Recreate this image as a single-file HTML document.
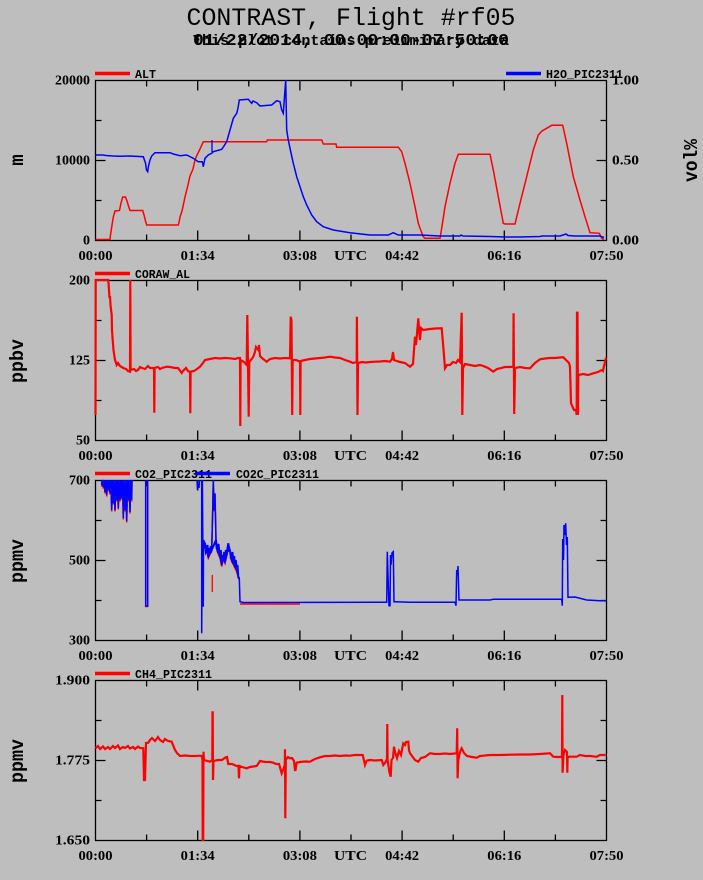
<!DOCTYPE html>
<html><head><meta charset="utf-8"><style>
html,body{margin:0;padding:0;background:#bebebe;}
svg{display:block;}
.t{font-family:"Liberation Serif",serif;font-weight:bold;font-size:14px;fill:#000;}
.lg{font-family:"Liberation Mono",monospace;font-weight:bold;font-size:11.5px;fill:#000;}
.yl{font-family:"Liberation Mono",monospace;font-weight:bold;font-size:19px;fill:#000;}
.ax{fill:none;stroke:#000;stroke-width:1.3;}
.r{fill:none;stroke:#ff0000;stroke-width:1.5;stroke-linejoin:miter;}
.rn{fill:none;stroke:#ff0000;stroke-width:2.2;stroke-linejoin:miter;}
.b{fill:none;stroke:#0000ff;stroke-width:1.5;stroke-linejoin:miter;}
.bn{fill:none;stroke:#0000ff;stroke-width:2;stroke-linejoin:miter;}
</style></head><body>
<svg width="703" height="880" viewBox="0 0 703 880" xmlns="http://www.w3.org/2000/svg">
<rect width="703" height="880" fill="#bebebe"/>
<text x="351" y="25" font-family="Liberation Mono,monospace" font-size="25" text-anchor="middle" textLength="329" lengthAdjust="spacingAndGlyphs">CONTRAST, Flight #rf05</text>
<text x="351" y="45" font-family="Liberation Mono,monospace" font-weight="bold" font-size="17" text-anchor="middle" textLength="316" lengthAdjust="spacingAndGlyphs">01/22/2014, 00:00:00-07:50:00</text>
<text x="351" y="45" font-family="Liberation Mono,monospace" font-weight="bold" font-size="15" text-anchor="middle" textLength="316" lengthAdjust="spacingAndGlyphs">This plot contains preliminary data</text>

<defs>
<g id="frame">
<rect x="95.5" y="0.5" width="511" height="160" class="ax"/>
<path class="ax" d="M197.7,0.5V10.5M299.9,0.5V10.5M402.1,0.5V10.5M504.3,0.5V10.5
M146.6,0.5V6.5M248.8,0.5V6.5M351,0.5V6.5M453.2,0.5V6.5M555.4,0.5V6.5
M197.7,160.5V150.5M299.9,160.5V150.5M402.1,160.5V150.5M504.3,160.5V150.5
M146.6,160.5V154.5M248.8,160.5V154.5M351,160.5V154.5M453.2,160.5V154.5M555.4,160.5V154.5
M95.5,40.5H101.5M95.5,80.5H105.5M95.5,120.5H101.5
M606.5,40.5H600.5M606.5,80.5H596.5M606.5,120.5H600.5"/>
<text class="t" x="95.5" y="180" text-anchor="middle" textLength="34" lengthAdjust="spacingAndGlyphs">00:00</text>
<text class="t" x="197.7" y="180" text-anchor="middle" textLength="34" lengthAdjust="spacingAndGlyphs">01:34</text>
<text class="t" x="299.9" y="180" text-anchor="middle" textLength="34" lengthAdjust="spacingAndGlyphs">03:08</text>
<text class="t" x="350.5" y="180" text-anchor="middle" font-size="18" textLength="33" lengthAdjust="spacingAndGlyphs">UTC</text>
<text class="t" x="402.1" y="180" text-anchor="middle" textLength="34" lengthAdjust="spacingAndGlyphs">04:42</text>
<text class="t" x="504.3" y="180" text-anchor="middle" textLength="34" lengthAdjust="spacingAndGlyphs">06:16</text>
<text class="t" x="606.5" y="180" text-anchor="middle" textLength="34" lengthAdjust="spacingAndGlyphs">07:50</text>
</g>
</defs>

<!-- Panel 1 -->
<use href="#frame" transform="translate(0,80)"/>
<text class="t" x="90" y="84.5" text-anchor="end" textLength="35" lengthAdjust="spacingAndGlyphs">20000</text>
<text class="t" x="90" y="164.5" text-anchor="end" textLength="35" lengthAdjust="spacingAndGlyphs">10000</text>
<text class="t" x="90" y="244.5" text-anchor="end">0</text>
<text class="t" x="612" y="84.5" textLength="27" lengthAdjust="spacingAndGlyphs">1.00</text>
<text class="t" x="612" y="164.5" textLength="27" lengthAdjust="spacingAndGlyphs">0.50</text>
<text class="t" x="612" y="244.5" textLength="27" lengthAdjust="spacingAndGlyphs">0.00</text>
<text class="yl" transform="translate(23,160) rotate(-90)" text-anchor="middle">m</text>
<text class="yl" transform="translate(697,160.5) rotate(-90)" text-anchor="middle" textLength="43" lengthAdjust="spacingAndGlyphs">vol%</text>
<line x1="95" y1="73.5" x2="130" y2="73.5" stroke="#ff0000" stroke-width="3.5"/>
<text class="lg" x="135" y="78" textLength="21" lengthAdjust="spacingAndGlyphs">ALT</text>
<line x1="506" y1="73.5" x2="541" y2="73.5" stroke="#0000ff" stroke-width="3.5"/>
<text class="lg" x="546" y="78" textLength="77" lengthAdjust="spacingAndGlyphs">H2O_PIC2311</text>
<polyline class="r" points="95.5,239.5 110,239.5 110.5,235 112,225 113.3,217 115,211 119.5,210.5 121,203 122.7,197 125.5,197 127,201 128.5,206 130,210.5 142.7,210.5 144,215 145.5,221 146.7,225 178.3,225 179.5,220 180,217 182,211 185,197 188,185 190,176 193,169 195,160 197,155 200,149 203.3,141.7 266.7,141.7 267.3,140 321.7,140 323.3,144 336,144 336.7,147.3 398.3,147.3 401.7,151.7 405,163.3 410,183.3 415,206.7 418.3,223.3 420,228.3 423.3,236.7 425,238.3 440,238.3 441.7,228.3 445,206.7 450,183.3 455,163.3 458.3,154.3 490,154.3 493.3,170 498.3,196.7 503.3,223.3 505,224 515,224 520,203.3 526.7,176.7 533.3,150 538.3,135 542,131 546.7,128.3 551.7,125.3 562.7,125.3 566.7,143.3 573.3,176.7 580,200 585,216.7 590,232.7 599.3,233.3 601.7,238.3 604,239.5"/>
<polyline class="b" points="95.5,155 103,155 106,155.5 113.3,156 120,156.3 130,156 143.3,156.7 145.5,163 146.5,170 147.7,171.7 148.5,166 150,160 151.7,156 155,152.7 160,152.7 170,152.7 173.3,154 180,155.7 186.7,155 193.3,158.3 198.3,161.7 202.3,161.7 203.3,166.7 205,158.3 208.3,155 212,153 213.3,151.7 221.7,149.3 224,146 226.7,141.7 230,130 233.3,118.3 236.7,113.3 238,108 239.3,100 248.3,99.3 251.7,103.3 253,101 256.7,102.7 260,106 271.7,105 276.7,100.7 280,101.7 281.7,110 283.3,113.3 285.7,80 286.7,130 288.3,140 290,148.3 293.3,163.3 296.7,176.7 300,186.7 303.3,196.7 306.7,205 311.7,215 316.7,221.7 323.3,226.7 333.3,230 350,232.7 370,235 388.3,235 393.3,232.7 398.3,235 420,235 440,236 460,236 461,235 463,236 490,236.5 505,237 520,237 540,236.5 542,236 560,236 563,235 566,234 568,235.5 575,236 600,236 604,237.5"/>
<line x1="212" y1="140" x2="212" y2="152" stroke="#0000ff" stroke-width="1.3"/>

<!-- Panel 2 -->
<use href="#frame" transform="translate(0,280)"/>
<text class="t" x="90" y="284.5" text-anchor="end" textLength="21" lengthAdjust="spacingAndGlyphs">200</text>
<text class="t" x="90" y="364.5" text-anchor="end" textLength="21" lengthAdjust="spacingAndGlyphs">125</text>
<text class="t" x="90" y="444.5" text-anchor="end" textLength="14" lengthAdjust="spacingAndGlyphs">50</text>
<text class="yl" transform="translate(23,361) rotate(-90)" text-anchor="middle" textLength="44" lengthAdjust="spacingAndGlyphs">ppbv</text>
<line x1="95" y1="273.5" x2="130" y2="273.5" stroke="#ff0000" stroke-width="3.5"/>
<text class="lg" x="135" y="278" textLength="55" lengthAdjust="spacingAndGlyphs">CORAW_AL</text>
<polyline class="rn" points="95.5,415 95.7,280 108.3,280 109,290 109.5,298 110,296 110.5,305 111.7,315 112,330 112.7,340 113.5,350 115,360 116.7,365 118,363 120,366 123.3,368 126,369 128,371 130,371.7 130.3,280 130.6,370 134,369 136,371 138,370 140,367 142,368 145,369 148,366 150,368 154,368 154.3,412.7 154.6,368 158,367 160,369 162,368 166.7,366.7 170,367 175,368 178,368 181.7,373 183,371 186,368 188,371 190,372 190.3,413.3 190.6,371.7 194,371 197,369 200,366.7 203,363 205,360 210,359 215,358 220,358.5 225,358 230,358.3 235,359 238,358 240,358 240.3,426 240.6,360 244,362 246.7,365 247.3,315 248,365 248.7,416.7 249.3,362 251,360 253.3,356.7 255,352 256,347 258.3,350 259,345 260,356 262,358 266.7,361.7 270,359 275,358 280,358.5 285,358 290,358.3 290.7,316.7 291.5,320 292.2,415 292.7,360 296,360 300,361.7 300.3,415 300.6,361 305,360 310,359 315,358.5 320,358 325,357.5 330,356.7 335,357.5 340,358 345,360 350,361.7 353,363 356.7,362 356.9,316.7 357.5,415 358,363 362,362 366,362.5 370,362 375,361.7 380,361.5 385,361 390,361.7 392,359 393,352 394,360 396.7,361 400,362 405,363 410,366.7 413,364 415,336.7 416,345 418.3,318.3 419,330 420,340 421,328 423.3,330 430,329 435,328.5 441.7,328.3 443.3,346.7 445,368.3 447,365 450,365 453,362 456,363 458,360 460,362 461.7,312.7 462.3,415 463,368 465,364 470,365 475,366 480,365 483.3,366 488,368 493.3,371.7 497,369 500,368.3 505,367 510,367 513.3,366.7 513.6,313.3 514.2,414 515,368 520,367 525,368 530,368.3 535,363 540,359.3 545,358.5 550,358 555,358 560,357.5 563.3,357.3 566,360 569,363 570,366.7 571,403.3 574,410 576,410 576.7,415 577,312.7 577.5,312.7 578,415 578.3,375 583,374 588,375 593.3,373.3 598,372 601.7,370 603,371 604,366 605,362 606,357.7"/>

<!-- Panel 3 -->
<use href="#frame" transform="translate(0,480)"/>
<text class="t" x="90" y="484.5" text-anchor="end" textLength="21" lengthAdjust="spacingAndGlyphs">700</text>
<text class="t" x="90" y="564.5" text-anchor="end" textLength="21" lengthAdjust="spacingAndGlyphs">500</text>
<text class="t" x="90" y="644.5" text-anchor="end" textLength="21" lengthAdjust="spacingAndGlyphs">300</text>
<text class="yl" transform="translate(23,561) rotate(-90)" text-anchor="middle" textLength="44" lengthAdjust="spacingAndGlyphs">ppmv</text>
<line x1="95" y1="473.5" x2="130" y2="473.5" stroke="#ff0000" stroke-width="3.5"/>
<text class="lg" x="135" y="478" textLength="77" lengthAdjust="spacingAndGlyphs">CO2_PIC2311</text>
<line x1="195" y1="473.5" x2="230" y2="473.5" stroke="#0000ff" stroke-width="3.5"/>
<text class="lg" x="236" y="478" textLength="83" lengthAdjust="spacingAndGlyphs">CO2C_PIC2311</text>
<g transform="translate(0,1.5)">
<polyline class="r" points="101.7,480 101.7,485 102.5,480 103.3,487 104,480 105,492 105.8,480 106.7,495 107.5,480 108.3,490 109,480 110,493 110.8,480 111.7,510 112.5,480 113.3,503 114,480 115,510 115.8,480 116.7,500 117.5,480 118.3,508 119,480 120,500 120.8,480 121.7,498 122.5,480 123.3,518 124,480 125,510 125.8,480 126.7,521 127.5,480 128.3,500 129,480 130,512 130.8,480 131.7,500 132,480"/>
<polyline class="r" points="203.5,540 205,543.3 206.7,550 208.3,556.7 210,553 211.7,550 212.7,510 213.3,480 214,510 215,493.3 216,540 217.3,550 220,556.7 221.7,565 223.3,558 225,562 226.7,555 228.3,543.3 230,550 231.7,560 233.3,563 235,566.7 236.7,570 238.3,576.7 239.3,578.3"/>
</g>
<polyline class="r" points="145.7,480 145.7,606.5 147.7,606.5 147.7,480"/>
<polyline class="r" points="240,604 300,604"/>
<line x1="212.3" y1="575" x2="212.3" y2="592" stroke="#ff0000" stroke-width="1.3"/>
<polyline class="b" points="101.7,480 101.7,485 102.5,480 103.3,487 104,480 105,492 105.8,480 106.7,495 107.5,480 108.3,490 109,480 110,493 110.8,480 111.7,510 112.5,480 113.3,503 114,480 115,510 115.8,480 116.7,500 117.5,480 118.3,508 119,480 120,500 120.8,480 121.7,498 122.5,480 123.3,518 124,480 125,510 125.8,480 126.7,521 127.5,480 128.3,500 129,480 130,512 130.8,480 131.7,500 132,480"/>
<polyline class="b" points="145.7,480 145.7,606 147.7,606 147.7,480"/>
<polyline class="b" points="197,480 197.5,490 198.5,484 199,488 199.5,480"/>
<polyline class="bn" points="203.5,540 204.2,548 205,543.3 205.8,552 206.7,550 207.5,545 208.3,556.7 209.2,548 210,553 210.8,546 211.7,550 216,540 216.6,548 217.3,550 218.5,544 220,556.7 220.8,550 221.7,565 222.5,555 223.3,558 224.2,552 225,562 225.8,550 226.7,555 227.5,548 228.3,543.3 229.2,552 230,550 230.8,558 231.7,560 232.5,552 233.3,563 234.2,556 235,566.7 235.8,560 236.7,570 237.5,565 238.3,576.7 239.3,578.3"/>
<polyline class="b" points="201.7,480 201.7,633.3 202.4,480 203.3,606.7 203.5,540 205,543.3 206.7,550 208.3,556.7 210,553 211.7,550 212.7,510 213.3,480 214,510 215,493.3 216,540 217.3,550 220,556.7 221.7,565 223.3,558 225,562 226.7,555 228.3,543.3 230,550 231.7,560 233.3,563 235,566.7 236.7,570 238.3,576.7 239.3,578.3 240,601.7 243,602.5 386.7,602.3 387.3,551.7 388,575 389,605.7 390,605.7 390.5,555 391,565 392,553 393.3,551.7 394,601.7 395,601.7 410,602.3 455,602.3 456,605.7 456.7,570 457.5,575 458,566 459,600 463.3,600 490,600 493.3,599.3 561.7,599.3 562.3,605.7 562.7,539 563.5,560 564,525 565,535 565.7,523.3 566.5,545 567.3,537 568,597.3 575,597 586.7,600 600,600.7 606,600.7"/>

<!-- Panel 4 -->
<use href="#frame" transform="translate(0,680)"/>
<text class="t" x="90" y="684.5" text-anchor="end" textLength="35" lengthAdjust="spacingAndGlyphs">1.900</text>
<text class="t" x="90" y="764.5" text-anchor="end" textLength="35" lengthAdjust="spacingAndGlyphs">1.775</text>
<text class="t" x="90" y="844.5" text-anchor="end" textLength="35" lengthAdjust="spacingAndGlyphs">1.650</text>
<text class="yl" transform="translate(23,761) rotate(-90)" text-anchor="middle" textLength="44" lengthAdjust="spacingAndGlyphs">ppmv</text>
<line x1="95" y1="673.5" x2="130" y2="673.5" stroke="#ff0000" stroke-width="3.5"/>
<text class="lg" x="135" y="678" textLength="77" lengthAdjust="spacingAndGlyphs">CH4_PIC2311</text>
<polyline class="rn" points="95.5,748.3 98,746 100,749 103,746.5 105,749 108,747 110,749 113,746 115,748 118,745.5 120,749 123,747 125,748 128,746 130,748.5 133,747 135,749 138,746.5 140,748 143.3,748.3 144,780 145,780 146,743 148.3,742.7 150,740 152,738 155,741 158,737 160,740 163,742 165,739 168,741 171.7,741.7 173,745 175,750 177,753 180,756 185,755.5 190,756 195,756 200,755.7 201.8,756 202.5,760 202.7,840 203.2,840 203.5,751.7 204,760 210,761.7 212.3,760 212.5,712.3 212.7,712.3 213,780 213.5,761 218,760 222,760 225.7,757.3 227,757 228.3,764 232,764 236.7,766 238.5,766 239,778.3 239.5,766 242,767 246.7,768.3 250,767 256.7,766 258,764 260,761 265,762 270,762 273.3,762.7 276,764 279,764 281.7,773.3 283,770 284.8,765 285,749.3 285.3,818.3 285.8,760 288,757 290,758.3 292,758 294,761 295,770 295.5,770 296.7,762.7 300,762 305,761.5 310,761.7 315,759 320,757.3 325,756 330,756 335,755.5 340,756 345,755.5 350,755.7 355,755 362.7,755 365,765 366.7,760.7 370,760 375,760.5 381.7,760 383.3,765 385,763 387,759 387.3,724 387.6,760 389.3,771.7 390.7,776.7 391.5,760 393,758 394,746.7 395,752 397,758 399,751 401,755 403.3,743.3 405,745 406,742 408.3,741.7 409,750 410,753.3 412,756 415,760 418.3,761.7 421,758 425,757 430,753.3 435,754 440,754 445,753.5 450,754 456.7,753.3 457.2,728.3 457.6,778.3 458.3,760 460,752 461.7,748.3 464,753 467,756 472,757 476.7,757.7 480,756 483.3,755.7 490,755 500,755 510,754.7 520,754.5 530,754.5 540,754 550,753.3 553.3,756.7 558,757 562,757 562.3,695 562.6,772.7 563.5,755 565,750 567,752 567.3,772.7 567.6,757 570,756.7 576.7,756.7 580,755 585,756 590,756 596.7,756.7 600,755 606,755"/>
</svg>
</body></html>
